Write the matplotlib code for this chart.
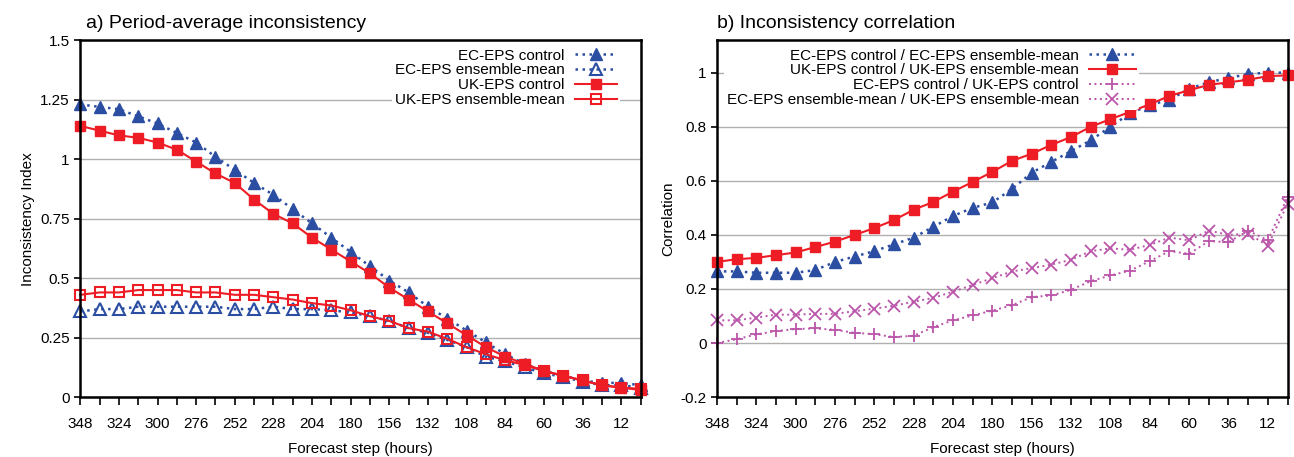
#!/usr/bin/env python3
"""Period-average inconsistency and inconsistency correlation, EC-EPS vs UK-EPS."""

import matplotlib
matplotlib.use("Agg")
import matplotlib.pyplot as plt

plt.rcParams["font.family"] = ["Liberation Sans", "DejaVu Sans"]

BLUE = "#2b4ea2"
RED = "#ee1c24"
MAGENTA = "#bb55aa"
GRID = "#b0b0b0"

steps = list(range(348, -1, -12))
tick_steps = list(range(348, 0, -24))

# panel a: period-average inconsistency index
ec_control = [1.23, 1.22, 1.21, 1.18, 1.15, 1.11, 1.07, 1.01, 0.955, 0.90,
              0.85, 0.79, 0.73, 0.67, 0.61, 0.55, 0.49, 0.44, 0.38, 0.33,
              0.28, 0.23, 0.18, 0.14, 0.11, 0.09, 0.07, 0.06, 0.06, 0.05]
ec_ensmean = [0.36, 0.37, 0.37, 0.38, 0.38, 0.38, 0.38, 0.38, 0.37, 0.37,
              0.38, 0.37, 0.37, 0.365, 0.356, 0.34, 0.32, 0.29, 0.27, 0.24,
              0.21, 0.17, 0.15, 0.125, 0.10, 0.085, 0.065, 0.05, 0.05, 0.04]
uk_control = [1.14, 1.12, 1.10, 1.09, 1.07, 1.04, 0.99, 0.94, 0.90, 0.83,
              0.77, 0.73, 0.67, 0.62, 0.57, 0.52, 0.46, 0.41, 0.36, 0.31,
              0.26, 0.21, 0.17, 0.14, 0.11, 0.09, 0.07, 0.05, 0.04, 0.03]
uk_ensmean = [0.43, 0.44, 0.44, 0.45, 0.45, 0.45, 0.44, 0.44, 0.43, 0.43,
              0.42, 0.41, 0.395, 0.385, 0.365, 0.34, 0.32, 0.29, 0.275, 0.245,
              0.21, 0.18, 0.155, 0.135, 0.11, 0.09, 0.07, 0.05, 0.04, 0.035]

# panel b: correlations
corr_ec = [0.265, 0.265, 0.26, 0.26, 0.26, 0.27, 0.30, 0.32, 0.34, 0.365,
           0.39, 0.43, 0.47, 0.50, 0.52, 0.57, 0.63, 0.67, 0.71, 0.75,
           0.80, 0.85, 0.88, 0.90, 0.94, 0.965, 0.98, 0.995, 1.0, 1.0]
corr_uk = [0.30, 0.31, 0.315, 0.325, 0.335, 0.355, 0.375, 0.40, 0.425, 0.455,
           0.493, 0.522, 0.56, 0.596, 0.633, 0.674, 0.70, 0.733, 0.762, 0.80,
           0.828, 0.855, 0.883, 0.914, 0.935, 0.955, 0.964, 0.974, 0.987, 0.99]
corr_control = [0.0, 0.014, 0.032, 0.044, 0.052, 0.054, 0.049, 0.038, 0.033, 0.022,
                0.027, 0.059, 0.084, 0.102, 0.12, 0.14, 0.17, 0.176, 0.197, 0.229,
                0.25, 0.268, 0.303, 0.34, 0.33, 0.377, 0.373, 0.416, 0.38, 0.54]
corr_ensmean = [0.084, 0.084, 0.094, 0.105, 0.105, 0.108, 0.108, 0.118, 0.127, 0.138,
                0.153, 0.167, 0.19, 0.215, 0.24, 0.265, 0.277, 0.29, 0.308, 0.34,
                0.35, 0.345, 0.363, 0.39, 0.38, 0.416, 0.40, 0.405, 0.36, 0.515]

DOT = (0, (1, 1.8))


def style_axes(ax, yticks, ylim, ylabels):
    ax.set_xlim(348, 0)
    ax.set_ylim(*ylim)
    ax.set_xticks(steps, minor=True)
    ax.set_xticks(tick_steps)
    ax.set_xticklabels([str(s) for s in tick_steps])
    ax.set_yticks(yticks)
    ax.set_yticklabels(ylabels)
    ax.tick_params(axis="x", which="both", direction="out", length=6, width=1.2,
                   labelsize=11, pad=8, top=False)
    ax.tick_params(axis="y", direction="out", length=4, width=1.2, labelsize=11, right=False)
    for s in ax.spines.values():
        s.set_linewidth(1.8)
        s.set_zorder(6)
    ax.grid(axis="y", color=GRID, lw=1.0)
    ax.set_axisbelow(True)
    ax.set_xlabel("Forecast step (hours)", fontsize=11, labelpad=8)


def legend(ax, anchor, hlen):
    leg = ax.legend(loc="upper right", bbox_to_anchor=anchor, markerfirst=False,
                    frameon=True, fontsize=11, handlelength=hlen, handletextpad=0.65,
                    labelspacing=0.05, borderaxespad=0.0, borderpad=0.2)
    leg.get_frame().set_facecolor("white")
    leg.get_frame().set_edgecolor("none")
    leg.get_frame().set_alpha(1)
    return leg


fig = plt.figure(figsize=(12.94, 4.57), dpi=100)
ax1 = fig.add_axes([0.062, 0.131, 0.433, 0.781])
ax2 = fig.add_axes([0.554, 0.131, 0.441, 0.781])

# --- a) ---
ax1.plot(steps, ec_control, color=BLUE, ls=DOT, lw=1.8, marker="^", ms=8,
         mfc=BLUE, mec=BLUE, label="EC-EPS control", clip_on=False)
ax1.plot(steps, ec_ensmean, color=BLUE, ls=DOT, lw=1.8, marker="^", ms=8,
         mfc="none", mec=BLUE, mew=1.5, label="EC-EPS ensemble-mean", clip_on=False)
ax1.plot(steps, uk_control, color=RED, ls="-", lw=1.5, marker="s", ms=7.5,
         mfc=RED, mec=RED, label="UK-EPS control", clip_on=False)
ax1.plot(steps, uk_ensmean, color=RED, ls="-", lw=1.5, marker="s", ms=7.5,
         mfc="none", mec=RED, mew=1.5, label="UK-EPS ensemble-mean", clip_on=False)
style_axes(ax1, [0, 0.25, 0.5, 0.75, 1, 1.25, 1.5], (0, 1.5),
           ["0", "0.25", "0.5", "0.75", "1", "1.25", "1.5"])
ax1.set_ylabel("Inconsistency Index", fontsize=11)
ax1.set_title("a) Period-average inconsistency", loc="left", fontsize=14, pad=9, x=0.01)
legend(ax1, (0.963, 0.985), 2.75)

# --- b) ---
ax2.plot(steps, corr_ec, color=BLUE, ls=DOT, lw=1.8, marker="^", ms=8,
         mfc=BLUE, mec=BLUE, label="EC-EPS control / EC-EPS ensemble-mean", clip_on=False)
ax2.plot(steps, corr_uk, color=RED, ls="-", lw=1.5, marker="s", ms=7.5,
         mfc=RED, mec=RED, label="UK-EPS control / UK-EPS ensemble-mean", clip_on=False)
ax2.plot(steps, corr_control, color=MAGENTA, ls=DOT, lw=1.4, marker="+", ms=9,
         mew=1.3, label="EC-EPS control / UK-EPS control", clip_on=False)
ax2.plot(steps, corr_ensmean, color=MAGENTA, ls=DOT, lw=1.4, marker="x", ms=8,
         mew=1.3, label="EC-EPS ensemble-mean / UK-EPS ensemble-mean", clip_on=False)
style_axes(ax2, [-0.2, 0, 0.2, 0.4, 0.6, 0.8, 1], (-0.2, 1.12),
           ["-0.2", "0", "0.2", "0.4", "0.6", "0.8", "1"])
ax2.set_ylabel("Correlation", fontsize=11)
ax2.set_title("b) Inconsistency correlation", loc="left", fontsize=14, pad=9, x=0.0)
legend(ax2, (0.74, 0.985), 3.1)

fig.savefig("out.png", dpi=100, facecolor="white")
